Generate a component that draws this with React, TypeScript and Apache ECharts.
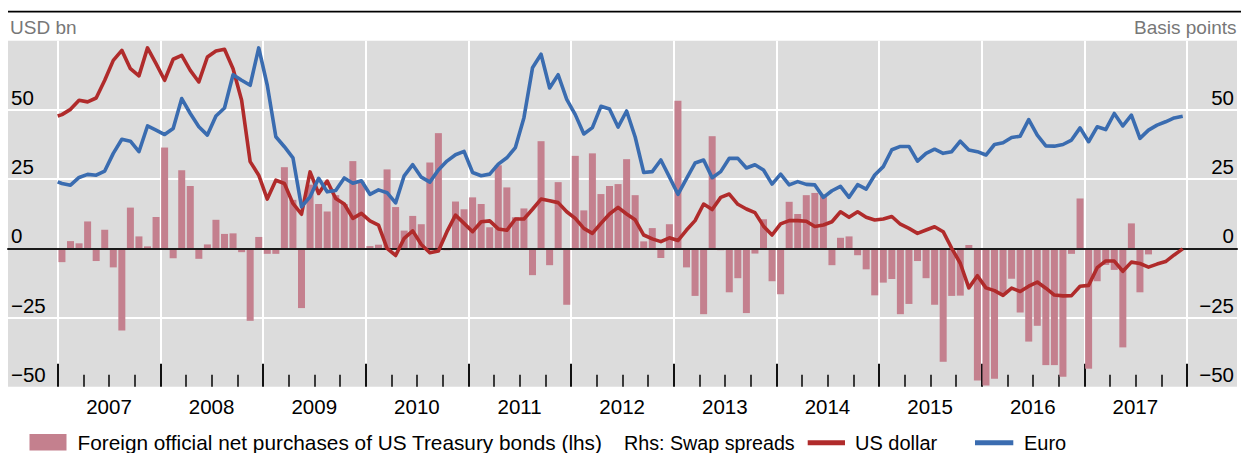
import React, { useEffect, useRef } from 'react';
import * as echarts from 'echarts';

// ---- Data (monthly, Jan 2007 = index 0) ----
const years = ['2007', '2008', '2009', '2010', '2011', '2012', '2013', '2014', '2015', '2016', '2017'];
const yTickValues = [-50, -25, 0, 25, 50];

// Foreign official net purchases of US Treasury bonds, USD bn (lhs)
const purchases: (number | null)[] = [
  -5, 2.6, 1.8, 9.7, -4.6, 6.7, -6.9, -29.7, 14.7, 4.3, 0.7, 11.3, // 2007
  36.4, -3.6, 28.2, 22.5, -3.8, 1.4, 10.3, 5.2, 5.4, -1.4, -26.2, 4.1, // 2008
  -2, -2, 29.3, 17.5, -21.6, 23, 16, 13.3, 19.2, 16, 31.5, 24, // 2009
  0.8, 1.3, 28.5, 14.9, 6.4, 11.7, 8.7, 31, 41.6, -0.7, 16.9, 14.1, // 2010
  18.4, 16, 7.6, 30, 22, 11.2, 14.4, -9.7, 38.7, -6.1, 23.9, -20.4, // 2011
  33.4, 13.7, 34.3, 19.6, 22.5, 23.2, 32.2, 19.2, 2.5, 7.3, -3.5, 8.7, // 2012
  53.3, -6.9, -17.2, -23.8, 40.5, -0.7, -15.9, -10.8, -23.4, -1.9, 10.5, -11.9, // 2013
  -16.6, 16.8, 12.4, 19.2, 20, 19.5, -6.1, 3.8, 4.3, -2.5, -7.6, -17, // 2014
  -12.4, -11.1, -23.8, -20.1, -4.6, -10.8, -20.4, -41, -17.2, -17.1, 1.2, -47.8, // 2015
  -49.6, -47.1, -16.8, -11, -23.2, -33.7, -28, -42.2, -42.2, -46.4, -2, 18, // 2016
  -43.5, -11.9, -6, -7.8, -35.8, 9, -15.9, -2.2, -0.3, null, null, null, // 2017
];

// Swap spreads, basis points (rhs). First value is the opening point at the start of 2007.
const usDollarStart = 47.8;
const usDollar = [
  48.3, 50.2, 53.5, 52.9, 54.3, 60.7, 67.9, 71.5, 64.9, 62.3, 72.4, 66.7, // 2007
  60.7, 68.3, 69.7, 64.3, 60.1, 69.1, 71.3, 71.9, 64.9, 53.5, 31.3, 26.4, // 2008
  17.8, 24.6, 23.4, 16.2, 12.3, 27.6, 19.8, 24.3, 18, 16, 10.8, 12.6, // 2009
  9.9, 8.4, 0, -2.6, 3.6, 6.3, 1.4, -1.6, -1, 6, 12, 9, // 2010
  6, 9.6, 9.9, 7, 6.5, 10.6, 10.6, 14.1, 17.8, 17.2, 16.5, 13.2, // 2011
  10.8, 7.2, 5.4, 9, 12.4, 14.8, 12.4, 10.3, 4.8, 3.4, 2.4, 3.8, // 2012
  2.8, 6.6, 10, 16, 14, 18.4, 19.6, 15.9, 14.2, 12.9, 8, 4.8, // 2013
  8.8, 10, 10, 9.8, 7.9, 8.4, 9.6, 13.2, 11.2, 13.2, 11.2, 10.2, // 2014
  10.6, 11.5, 8.7, 7.2, 5.4, 6.6, 7.8, 6, 0, -5.4, -14.3, -9.9, // 2015
  -14.3, -15.3, -17, -14.4, -15.6, -13.7, -12.2, -14.4, -16.9, -17.2, -17.1, -13.7, // 2016
  -13.4, -7, -4.6, -4.6, -8.3, -5, -5.5, -6.8, -5.7, -4.8, -2.4, -0.2, // 2017
];

const euroStart = 24;
const euro = [
  23.4, 22.8, 25.6, 26.7, 26.4, 27.9, 34.3, 39.4, 38.7, 34.9, 44.2, 42.7, // 2007
  41.1, 43.3, 54.1, 48.7, 43.9, 40.9, 47.8, 50.7, 62.7, 60.7, 58.9, 72.4, // 2008
  58.9, 40.3, 36.7, 32.7, 15, 18.6, 25.3, 20.4, 20.9, 25.4, 23.5, 24.4, // 2009
  19.5, 21.1, 20.1, 16.4, 26.2, 30.2, 25.7, 23.9, 28.3, 31.5, 33.8, 35, // 2010
  27.4, 26.2, 26.8, 30.4, 32.7, 36.4, 47.2, 65.2, 70.1, 57.9, 62.7, 53.8, // 2011
  48.3, 41.3, 43.6, 51.3, 50.3, 43.8, 49.6, 40.2, 27.4, 27.7, 31.9, 25.8, // 2012
  19.5, 25.2, 30.8, 31.9, 25.5, 27.7, 32.5, 32.5, 29, 30.2, 28.3, 23.2, // 2013
  26.8, 22.9, 24.1, 23.1, 22.9, 18.4, 20.8, 22.4, 18.4, 23, 21.4, 26.5, // 2014
  29.5, 35.6, 36.8, 36.8, 31.5, 34.3, 35.8, 34.3, 34.9, 38.7, 35.5, 34.9, // 2015
  33.7, 37.5, 38.1, 40, 40.5, 46.5, 40.9, 37, 36.9, 37.5, 39.1, 43.5, // 2016
  38.5, 43.9, 42.9, 48.7, 44.2, 48.1, 39.7, 42.7, 44.5, 45.7, 47.1, 47.7, // 2017
];

const legendLabels = {
  bars: 'Foreign official net purchases of US Treasury bonds (lhs)',
  rhs: 'Rhs: Swap spreads',
  usd: 'US dollar',
  eur: 'Euro',
};

const FONT = '"Liberation Sans", Arial, sans-serif';
const BAR_COLOR = '#c4808e';
const RED = '#b02b2b';
const BLUE = '#3a6cb0';
const GRAY_BG = '#dcdcdc';

const monthX = (i: number) => i + 0.5;
const lineData = (start: number, vals: number[]) => [[0, start], ...vals.map((v, i) => [monthX(i), v])];

const yFmt = (v: number) => {
  if (!yTickValues.includes(v)) return '';
  return v < 0 ? '\u2212' + Math.abs(v) : String(v);
};

const TOP = 40.7;
const BOTTOM = 453 - 386.7;

export default function App() {
  const ref = useRef<HTMLDivElement>(null);
  useEffect(() => {
    if (!ref.current) return;
    const chart = echarts.init(ref.current, undefined, { renderer: 'svg' });
    const option: any = {
      animation: false,
      textStyle: { fontFamily: FONT },
      grid: [
        { left: 8, right: 4, top: TOP, bottom: BOTTOM, show: true, backgroundColor: GRAY_BG, borderWidth: 0 },
        { left: 57.67, width: 1129.33, top: TOP, bottom: BOTTOM },
        { left: 6.33, width: 1232, top: TOP, bottom: BOTTOM },
      ],
      xAxis: [
        {
          gridIndex: 0, type: 'value', min: -5.8, max: 137.8, z: 3,
          axisLine: { show: true, onZero: true, lineStyle: { color: '#1a1a1a', width: 2 } },
          axisTick: { show: false }, axisLabel: { show: false }, splitLine: { show: false },
        },
        {
          gridIndex: 1, type: 'value', min: 0, max: 132, interval: 12,
          axisLine: { show: false, onZero: false },
          axisTick: { show: true, inside: true, length: 23, lineStyle: { color: '#111', width: 2 } },
          minorTick: { show: true, splitNumber: 4, length: 12, lineStyle: { color: '#111', width: 1.6 } },
          splitLine: { show: true, lineStyle: { color: '#ffffff', width: 2 } },
          axisLabel: { show: false },
        },
        {
          gridIndex: 2, type: 'value', min: -6, max: 138, interval: 12,
          axisLine: { show: false, onZero: false }, axisTick: { show: false }, splitLine: { show: false },
          axisLabel: {
            show: true, margin: 9, fontSize: 20.5, color: '#000', fontFamily: FONT,
            formatter: (v: number) => years[Math.round((v - 6) / 12)] ?? '',
          },
        },
      ],
      yAxis: [
        {
          gridIndex: 0, type: 'value', min: -50, max: 75, interval: 25, position: 'left',
          axisLine: { show: false }, axisTick: { show: false },
          splitLine: { show: true, showMinLine: false, showMaxLine: false, lineStyle: { color: '#ffffff', width: 2 } },
          axisLabel: {
            inside: true, margin: 3, verticalAlign: 'bottom', padding: [0, 0, 2, 0],
            fontSize: 20.5, color: '#000', fontFamily: FONT, formatter: yFmt,
          },
        },
        {
          gridIndex: 0, type: 'value', min: -50, max: 75, interval: 25, position: 'right',
          axisLine: { show: false }, axisTick: { show: false }, splitLine: { show: false },
          axisLabel: {
            inside: true, margin: 3, verticalAlign: 'bottom', padding: [0, 0, 2, 0],
            fontSize: 20.5, color: '#000', fontFamily: FONT, formatter: yFmt,
          },
        },
        { gridIndex: 1, type: 'value', min: -50, max: 75, show: false },
        { gridIndex: 2, type: 'value', min: -50, max: 75, show: false },
      ],
      series: [
        {
          type: 'bar', name: legendLabels.bars, xAxisIndex: 1, yAxisIndex: 2,
          data: purchases.map((v, i) => [monthX(i), v]),
          barWidth: 7, itemStyle: { color: BAR_COLOR }, z: 2,
        },
        {
          type: 'line', name: legendLabels.usd, xAxisIndex: 1, yAxisIndex: 2,
          data: lineData(usDollarStart, usDollar), symbol: 'none',
          lineStyle: { color: RED, width: 3.6, join: 'round' }, z: 4,
        },
        {
          type: 'line', name: legendLabels.eur, xAxisIndex: 1, yAxisIndex: 2,
          data: lineData(euroStart, euro), symbol: 'none',
          lineStyle: { color: BLUE, width: 3.6, join: 'round' }, z: 5,
        },
      ],
      graphic: [
        { type: 'rect', left: 8, top: 10.8, shape: { width: 1233, height: 1.8 }, style: { fill: '#000' } },
        { type: 'text', x: 10, y: 27, style: { text: 'USD bn', fill: '#777777', fontSize: 19, fontFamily: FONT, verticalAlign: 'middle', align: 'left' } },
        { type: 'text', x: 1236.5, y: 27, style: { text: 'Basis points', fill: '#777777', fontSize: 19, fontFamily: FONT, verticalAlign: 'middle', align: 'right' } },
        { type: 'rect', shape: { x: 29.5, y: 434, width: 37, height: 16.5 }, style: { fill: BAR_COLOR } },
        { type: 'text', x: 77.5, y: 442.5, style: { text: legendLabels.bars, fill: '#000', fontSize: 20.8, fontFamily: FONT, verticalAlign: 'middle' } },
        { type: 'text', x: 624, y: 442.5, style: { text: legendLabels.rhs, fill: '#000', fontSize: 19.7, fontFamily: FONT, verticalAlign: 'middle' } },
        { type: 'rect', shape: { x: 807.7, y: 440.3, width: 37.3, height: 5 }, style: { fill: RED } },
        { type: 'text', x: 855, y: 442.5, style: { text: legendLabels.usd, fill: '#000', fontSize: 20, fontFamily: FONT, verticalAlign: 'middle' } },
        { type: 'rect', shape: { x: 975, y: 440.3, width: 38.3, height: 5 }, style: { fill: BLUE } },
        { type: 'text', x: 1024, y: 442.5, style: { text: legendLabels.eur, fill: '#000', fontSize: 20, fontFamily: FONT, verticalAlign: 'middle' } },
      ],
    };
    chart.setOption(option);
    return () => chart.dispose();
  }, []);
  return <div ref={ref} style={{ position: 'absolute', left: 0, top: 0, width: 1241, height: 453 }} />;
}
